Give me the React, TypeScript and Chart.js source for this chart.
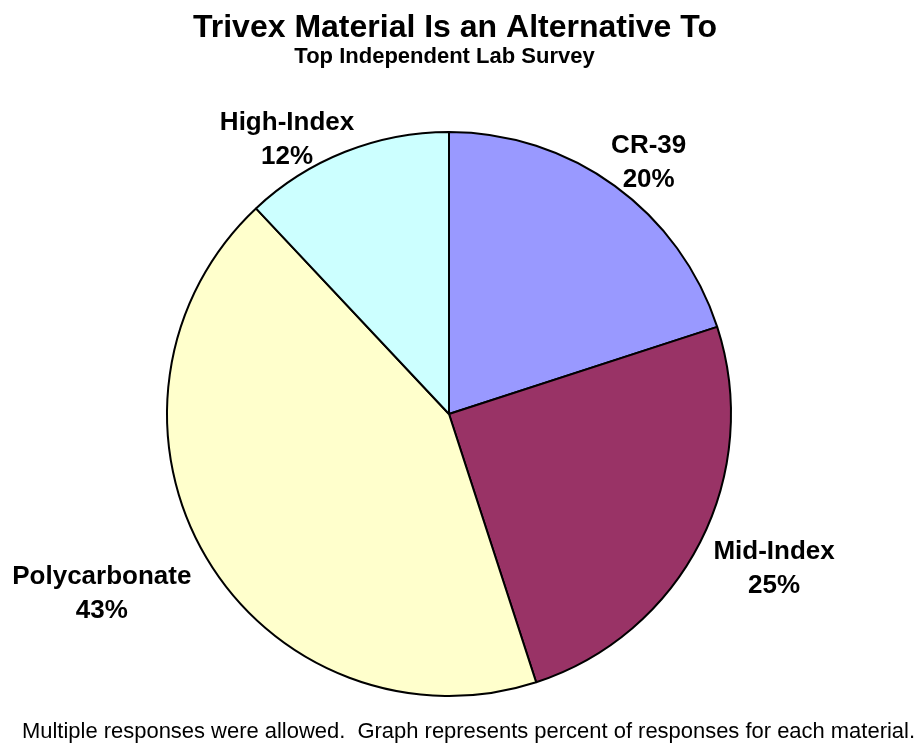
import React, { useEffect, useRef } from "react";
import { Chart, registerables } from "chart.js";

Chart.register(...registerables);

const titleText = "Trivex Material Is an Alternative To";
const subtitleText = "Top Independent Lab Survey";
const footerText =
  "Multiple responses were allowed.  Graph represents percent of responses for each material.";

const categories = ["CR-39", "Mid-Index", "Polycarbonate", "High-Index"];
const values = [20, 25, 43, 12];
const sliceColors = ["#9999FF", "#993366", "#FFFFCC", "#CCFFFF"];

// label placement: radial factor of the outer radius, and angular nudge (deg)
const labelRadius = [1.145, 1.274, 1.383, 1.135];
const labelAngleNudge = [2.2, -1.8, 3.5, -8.8];

const FONT = '"Liberation Sans", Arial, Helvetica, sans-serif';

const textPlugin = {
  id: "textPlugin",
  afterDraw(chart: any) {
    const ctx = chart.ctx;
    ctx.save();
    ctx.fillStyle = "#000";
    ctx.textBaseline = "alphabetic";

    ctx.textAlign = "center";
    ctx.font = `bold 32px ${FONT}`;
    ctx.fillText(titleText, 455, 37);
    ctx.font = `bold 22px ${FONT}`;
    ctx.fillText(subtitleText, 444.5, 63);

    ctx.textAlign = "left";
    ctx.font = `22px ${FONT}`;
    ctx.fillText(footerText, 22, 738, 893);

    const meta = chart.getDatasetMeta(0);
    const ds = chart.data.datasets[0];
    const total = (ds.data as number[]).reduce((a, b) => a + b, 0);
    ctx.textAlign = "center";
    const fs = 26;
    ctx.font = `bold ${fs}px ${FONT}`;
    meta.data.forEach((arc: any, i: number) => {
      const p = arc.getProps(["x", "y", "startAngle", "endAngle", "outerRadius"], true);
      const mid = (p.startAngle + p.endAngle) / 2 + (labelAngleNudge[i] * Math.PI) / 180;
      const r = p.outerRadius * labelRadius[i];
      const cx = p.x + Math.cos(mid) * r;
      const cy = p.y + Math.sin(mid) * r;
      const pct = Math.round((ds.data[i] / total) * 100) + "%";
      const capHalf = fs * 0.358;
      ctx.fillText(chart.data.labels[i], cx, cy - 17 + capHalf);
      ctx.fillText(pct, cx, cy + 17 + capHalf);
    });
    ctx.restore();
  },
};

export default function App() {
  const ref = useRef<HTMLCanvasElement | null>(null);
  useEffect(() => {
    if (!ref.current) return;
    const chart = new Chart(ref.current, {
      type: "pie",
      data: {
        labels: categories,
        datasets: [
          {
            data: values,
            backgroundColor: sliceColors,
            borderColor: "#000000",
            borderWidth: 2,
          },
        ],
      },
      options: {
        animation: false,
        responsive: true,
        maintainAspectRatio: false,
        layout: { padding: { top: 131, bottom: 47, left: 0, right: 18 } },
        plugins: {
          legend: { display: false },
          title: { display: false },
          tooltip: { enabled: false },
        },
      },
      plugins: [textPlugin],
    });
    return () => chart.destroy();
  }, []);
  return (
    <div style={{ position: "fixed", left: 0, top: 0, width: 916, height: 744, background: "#fff" }}>
      <canvas ref={ref} />
    </div>
  );
}
